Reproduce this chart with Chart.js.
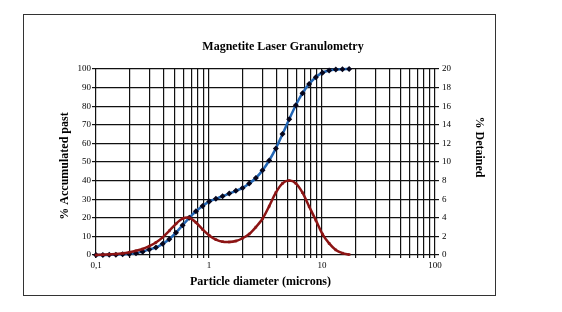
<!DOCTYPE html>
<html>
<head>
<meta charset="utf-8">
<script src="https://cdn.jsdelivr.net/npm/chart.js@4/dist/chart.umd.min.js"></script>
<style>
  html, body { margin: 0; padding: 0; background: #fff; }
  #wrap { position: relative; width: 562px; height: 312px; }
  #frame { position: absolute; left: 23px; top: 14px; width: 471px; height: 280px; border: 1.5px solid #333; pointer-events: none; }
</style>
</head>
<body>
<div id="wrap">
  <canvas id="c" width="562" height="312"></canvas>
  <div id="frame"></div>
</div>
<script>
// Particle diameters (microns)
const diameters = [0.1, 0.115, 0.131, 0.15, 0.172, 0.197, 0.226, 0.259, 0.296, 0.339,
  0.389, 0.445, 0.51, 0.584, 0.669, 0.766, 0.877, 1.005, 1.151, 1.318,
  1.51, 1.729, 1.981, 2.269, 2.599, 2.976, 3.409, 3.905, 4.472, 5.122,
  5.867, 6.72, 7.697, 8.816, 10.097, 11.565, 13.246, 15.172, 17.377];
// % Accumulated past (left axis)
const accumulated = [0, 0, 0.1, 0.2, 0.4, 0.6, 1.0, 1.8, 3.0, 4.0,
  6.0, 8.5, 12.0, 16.0, 20.0, 23.5, 26.3, 28.8, 30.2, 31.6,
  33.0, 34.5, 36.0, 38.4, 41.4, 45.5, 50.8, 57.3, 65.0, 73.0,
  80.5, 87.0, 92.0, 95.6, 98.0, 99.2, 99.7, 99.9, 100];
// % Detained (right axis)
const detained = [0, 0.03, 0.07, 0.1, 0.18, 0.3, 0.45, 0.65, 0.95, 1.35,
  1.9, 2.6, 3.35, 3.9, 4.0, 3.5, 2.75, 2.1, 1.65, 1.43,
  1.4, 1.5, 1.8, 2.25, 3.0, 3.9, 5.25, 6.7, 7.7, 8.0,
  7.7, 6.7, 5.2, 3.75, 2.25, 1.25, 0.55, 0.2, 0.05];
// x-axis grid values and labelled decades
const xGridValues = [0.1,0.2,0.3,0.4,0.5,0.6,0.7,0.8,0.9,1,2,3,4,5,6,7,8,9,10,20,30,40,50,60,70,80,90,100];
const xTickValues = [0.1, 1, 10, 100];
const xTickLabels = ['0,1', '1', '10', '100'];

const chartTitle = 'Magnetite Laser Granulometry';
const xTitle = 'Particle diameter (microns)';
const yTitle = '% Accumulated past';
const y1Title = '% Detained';

const serif = '"Liberation Serif", "Times New Roman", serif';

// Nudge title positions (chart title right, right-axis title up, left-axis title down)
const titleShift = {
  id: 'titleShift',
  afterLayout(chart) {
    const t = chart.titleBlock;
    if (t) { t.left += 11; t.right += 11; }
    const r = chart.scales.y1;
    if (r) { r.top -= 15; r.bottom -= 15; }
    const l = chart.scales.y;
    if (l) { l.top += 4; l.bottom += 4; }
    const x = chart.scales.x;
    if (x) { x.left -= 5; x.right -= 5; }
  }
};

new Chart(document.getElementById('c'), {
  type: 'line',
  data: {
    datasets: [
      {
        label: '% Accumulated past',
        data: diameters.map((d, i) => ({ x: d, y: accumulated[i] })),
        yAxisID: 'y',
        borderColor: '#2366b4',
        borderWidth: 2.5,
        pointStyle: 'rectRot',
        pointRadius: 3,
        pointBackgroundColor: '#06061c',
        pointBorderColor: '#06061c',
        pointBorderWidth: 0,
        tension: 0.3,
        clip: false,
        order: 1
      },
      {
        label: '% Detained',
        data: diameters.map((d, i) => ({ x: d, y: detained[i] })),
        yAxisID: 'y1',
        borderColor: '#8c1414',
        borderWidth: 2.5,
        pointStyle: 'rect',
        pointRadius: 1.8,
        pointBackgroundColor: '#8c1414',
        pointBorderColor: '#8c1414',
        pointBorderWidth: 0,
        tension: 0.3,
        clip: false,
        order: 0
      }
    ]
  },
  options: {
    responsive: false,
    animation: false,
    layout: { padding: { left: 54, right: 72, top: 0, bottom: 19 } },
    plugins: {
      legend: { display: false },
      tooltip: { enabled: false },
      title: {
        display: true,
        text: chartTitle,
        color: '#000',
        font: { family: serif, size: 12, weight: 'bold', lineHeight: 1.2 },
        padding: { top: 39.4, bottom: 15.2 }
      }
    },
    scales: {
      x: {
        type: 'logarithmic',
        position: 'bottom',
        min: 0.1,
        max: 100,
        afterBuildTicks: (scale) => {
          scale.ticks = xGridValues.map(v => ({ value: v }));
        },
        afterFit: (scale) => { scale.height = 38; },
        ticks: {
          autoSkip: false,
          maxRotation: 0,
          padding: 2,
          color: '#000',
          font: { family: serif, size: 9 },
          callback: (value) => {
            const idx = xTickValues.findIndex(t => Math.abs(t - value) < 1e-9);
            return idx >= 0 ? xTickLabels[idx] : '';
          }
        },
        grid: { color: '#111', lineWidth: 1.2, tickLength: 3, drawTicks: true },
        border: { display: false },
        title: {
          display: true,
          text: xTitle,
          color: '#000',
          font: { family: serif, size: 12, weight: 'bold' },
          padding: { top: 4, bottom: 4 }
        }
      },
      y: {
        position: 'left',
        min: 0,
        max: 100,
        afterFit: (scale) => { scale.width = 42; },
        ticks: { stepSize: 10, padding: 1, color: '#000', font: { family: serif, size: 9 } },
        grid: { color: '#111', lineWidth: 1.2, tickLength: 4 },
        border: { display: false },
        title: {
          display: true,
          text: yTitle,
          color: '#000',
          font: { family: serif, size: 12, weight: 'bold' },
          padding: { top: 4, bottom: 4 }
        }
      },
      y1: {
        position: 'right',
        min: 0,
        max: 20,
        afterFit: (scale) => { scale.width = 55; },
        ticks: { stepSize: 2, padding: 3, color: '#000', font: { family: serif, size: 9 } },
        grid: { drawOnChartArea: false, color: '#111', lineWidth: 1.2, tickLength: 4 },
        border: { display: false },
        title: {
          display: true,
          text: y1Title,
          color: '#000',
          font: { family: serif, size: 12, weight: 'bold' },
          padding: { top: 4, bottom: 4 }
        }
      }
    }
  },
  plugins: [titleShift]
});
</script>
</body>
</html>
